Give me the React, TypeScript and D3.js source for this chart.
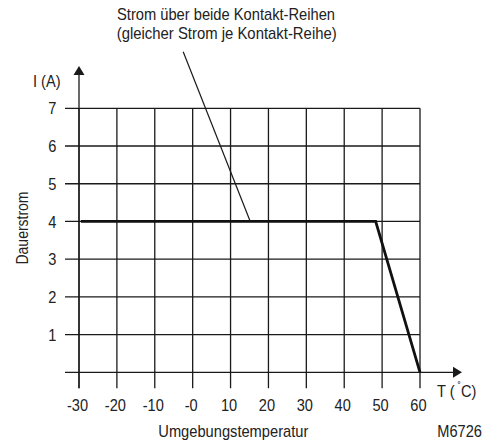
import React from "react";
import * as d3 from "d3";

const xTicks = [-30, -20, -10, 0, 10, 20, 30, 40, 50, 60];
const xTickLabels = ["-30", "-20", "-10", "-0", "10", "20", "30", "40", "50", "60"];
const yTicks = [1, 2, 3, 4, 5, 6, 7];
const curveT = [-29.5, 48.3, 60];
const curveI = [4, 4, 0];
const leaderFrom = [-2.5, 8.5];
const leaderTo = [15.2, 4];

const FONT = "'Liberation Sans', Arial, sans-serif";
const SX = 0.86;
const FS = 17;

function T(props: {
  x: number;
  y: number;
  anchor?: "start" | "middle" | "end";
  len?: number;
  rotate?: number;
  children: React.ReactNode;
  dy?: string;
}) {
  const { x, y, anchor = "start", len, rotate = 0, children, dy } = props;
  if (len) {
    return (
      <text
        transform={`translate(${x},${y}) rotate(${rotate})`}
        textAnchor={anchor}
        fontSize={FS}
        fill="#222"
        textLength={len}
        lengthAdjust="spacingAndGlyphs"
        dy={dy}
      >
        {children}
      </text>
    );
  }
  return (
    <text
      transform={`translate(${x},${y}) rotate(${rotate}) scale(${SX},1)`}
      textAnchor={anchor}
      fontSize={FS}
      fill="#222"
      dy={dy}
    >
      {children}
    </text>
  );
}

export default function App() {
  const x = d3.scaleLinear().domain([-30, 60]).range([79, 420]);
  const y = d3.scaleLinear().domain([0, 7]).range([372.3, 108.3]);
  const line = d3
    .line<number>()
    .x((_, i) => x(curveT[i]))
    .y((_, i) => y(curveI[i]));
  const stroke = "#1a1a1a";
  const x0 = x(-30);
  const y0 = y(0);
  return (
    <svg
      width={485}
      height={445}
      style={{ position: "absolute", left: 0, top: 0, background: "#fff" }}
      fontFamily={FONT}
    >
      <rect width={485} height={445} fill="#fff" />
      {yTicks.map((t) => (
        <line key={"h" + t} x1={65} x2={x(60)} y1={y(t)} y2={y(t)} stroke={stroke} strokeWidth={1.3} />
      ))}
      {xTicks.map((t) => (
        <line key={"v" + t} x1={x(t)} x2={x(t)} y1={y(7)} y2={y0 + 16} stroke={stroke} strokeWidth={1.3} />
      ))}
      <line x1={65} x2={455} y1={y0} y2={y0} stroke={stroke} strokeWidth={1.3} />
      <path d={`M${462},${y0} L${453},${y0 - 5.5} L${453},${y0 + 5.5} Z`} fill={stroke} />
      <line x1={x0} x2={x0} y1={y0 + 16} y2={74} stroke={stroke} strokeWidth={1.3} />
      <path d={`M${x0},${66} L${x0 - 5.5},${75} L${x0 + 5.5},${75} Z`} fill={stroke} />
      <path d={line(curveT) || ""} fill="none" stroke="#111" strokeWidth={2.8} strokeLinejoin="miter" />
      <line
        x1={x(leaderFrom[0])}
        y1={y(leaderFrom[1])}
        x2={x(leaderTo[0])}
        y2={y(leaderTo[1])}
        stroke={stroke}
        strokeWidth={1.2}
      />
      {yTicks.map((t) => (
        <T key={"yl" + t} x={56.5} y={y(t)} dy="0.36em" anchor="end">
          {t}
        </T>
      ))}
      {xTicks.map((t, i) => (
        <T key={"xl" + t} x={x(t) - 1.5} y={410.5} anchor="middle">
          {xTickLabels[i]}
        </T>
      ))}
      <T x={33} y={87}>I (A)</T>
      <text transform={`translate(437,397) scale(${SX},1)`} fontSize={FS} fill="#222">
        T (
        <tspan fontSize={12} dy={-6}> ˚</tspan>
        <tspan dy={6}>C)</tspan>
      </text>
      <T x={28} y={228} anchor="middle" rotate={-90} len={73}>
        Dauerstrom
      </T>
      <T x={233.3} y={437} anchor="middle" len={150}>
        Umgebungstemperatur
      </T>
      <T x={482} y={437} anchor="end">
        M6726
      </T>
      <T x={226} y={20} anchor="middle" len={218}>
        Strom über beide Kontakt-Reihen
      </T>
      <T x={226.7} y={39} anchor="middle" len={220}>
        (gleicher Strom je Kontakt-Reihe)
      </T>
    </svg>
  );
}
